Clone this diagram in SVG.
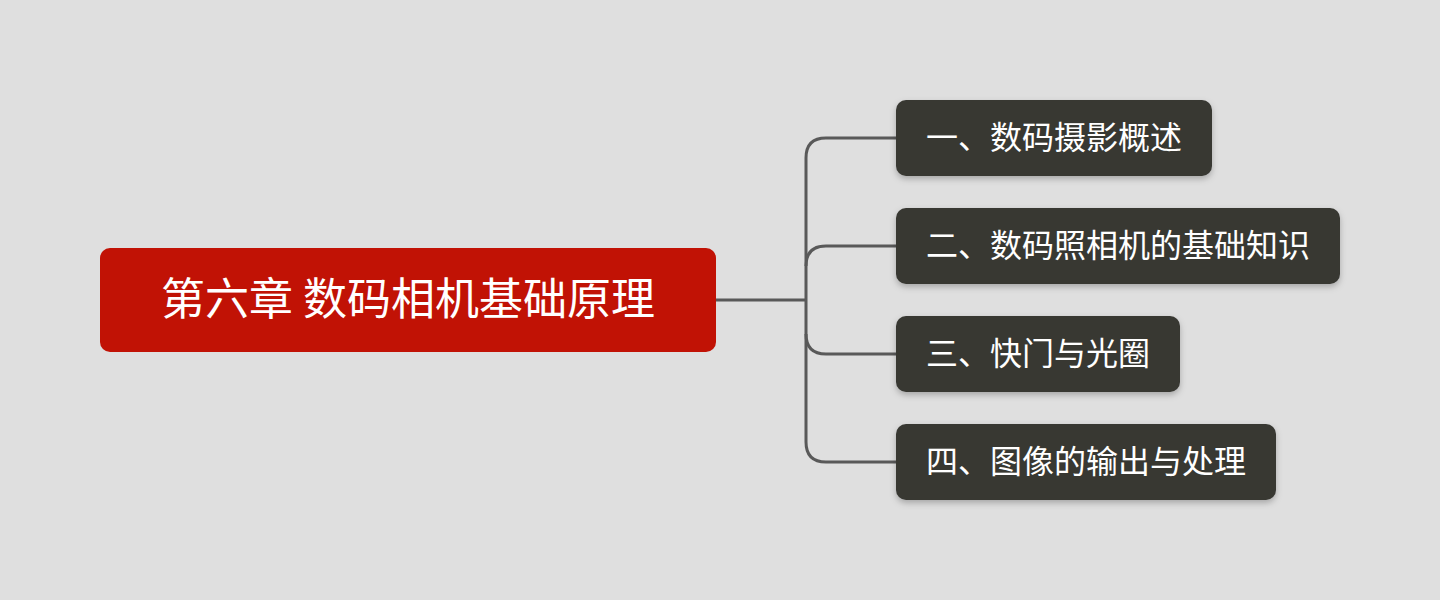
<svg xmlns="http://www.w3.org/2000/svg" width="1440" height="600" viewBox="0 0 1440 600">
<defs>
<style>
.bg{fill:#dfdfdf}
.root{fill:#c11205}
.child{fill:#383833;filter:url(#sh)}
.t{font-family:"Noto Sans CJK SC","Noto Sans",sans-serif;fill:#ffffff;dominant-baseline:central}
.rt{font-size:44px}
.ct{font-size:32px}
.conn{fill:none;stroke:#595959;stroke-width:3}
</style>
<filter id="sh" x="-10%" y="-20%" width="120%" height="150%">
<feDropShadow dx="0" dy="3" stdDeviation="3" flood-color="#000" flood-opacity="0.25"/>
</filter>
</defs>
<rect class="bg" x="0" y="0" width="1440" height="600"/>
<g id="connectors">
<path class="conn" d="M716 300 H806"/>
<path class="conn" d="M896 138 H826 Q806 138 806 158 V442 Q806 462 826 462 H896"/>
<path class="conn" d="M896 246 H826 Q806 246 806 266"/>
<path class="conn" d="M896 354 H826 Q806 354 806 334"/>
</g>
<g id="root">
<rect class="root" x="100" y="248" width="616" height="104" rx="10"/>
<text class="t rt" x="408" y="296" text-anchor="middle">第六章 数码相机基础原理</text>
</g>
<g id="n1">
<rect class="child" x="896" y="100" width="316" height="76" rx="10"/>
<text class="t ct" x="926" y="135">一、数码摄影概述</text>
</g>
<g id="n2">
<rect class="child" x="896" y="208" width="444" height="76" rx="10"/>
<text class="t ct" x="926" y="243">二、数码照相机的基础知识</text>
</g>
<g id="n3">
<rect class="child" x="896" y="316" width="284" height="76" rx="10"/>
<text class="t ct" x="926" y="351">三、快门与光圈</text>
</g>
<g id="n4">
<rect class="child" x="896" y="424" width="380" height="76" rx="10"/>
<text class="t ct" x="926" y="459">四、图像的输出与处理</text>
</g>
</svg>
